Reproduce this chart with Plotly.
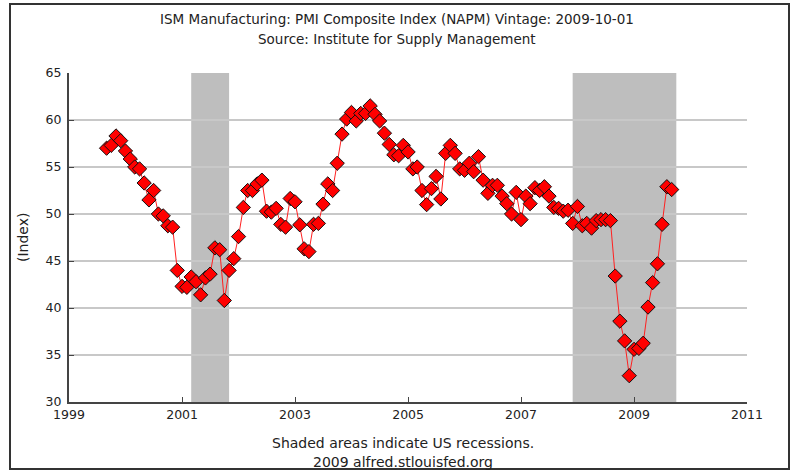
import pandas as pd
import plotly.graph_objects as go

# ---- data (monthly, Sep 1999 .. Sep 2009) ----
start_month = "1999-09-01"
pmi = [
    57.0, 57.3, 58.3, 57.8,
    56.7, 55.85, 55.0, 54.8, 53.3, 51.5, 52.5, 50.0, 49.8, 48.75, 48.6, 44.0,
    42.3, 42.2, 43.3, 42.8, 41.4, 43.2, 43.6, 46.4, 46.2, 40.8, 44.0, 45.25,
    47.6, 50.7, 52.5, 52.5, 53.2, 53.6, 50.3, 50.2, 50.6, 48.9, 48.6, 51.65,
    51.3, 48.85, 46.3, 46.0, 48.9, 49.0, 51.05, 53.2, 52.5, 55.4, 58.5, 60.1,
    60.8, 59.9, 60.7, 60.7, 61.5, 60.6, 59.9, 58.6, 57.4, 56.3, 56.2, 57.3,
    56.6, 54.8, 55.0, 52.5, 51.0, 52.7, 54.0, 51.6, 56.45, 57.3, 56.45, 54.8,
    54.65, 55.4, 54.5, 56.1, 53.6, 52.2, 53.05, 53.05, 51.9, 51.1, 50.0, 52.3,
    49.4, 51.9, 51.1, 52.8, 52.5, 52.9, 51.9, 50.7, 50.6, 50.3, 50.4, 49.0,
    50.8, 48.75, 49.0, 48.5, 49.3, 49.4, 49.4, 49.3, 43.4, 38.6, 36.5, 32.8,
    35.6, 35.7, 36.25, 40.1, 42.7, 44.7, 48.9, 52.9, 52.6,
]
dates = pd.date_range(start_month, periods=len(pmi), freq="MS")

recession_starts = ["2001-03-01", "2007-12-01"]
recession_ends = ["2001-11-01", "2009-10-01"]

title_line1 = "ISM Manufacturing: PMI Composite Index (NAPM) Vintage: 2009-10-01"
title_line2 = "Source: Institute for Supply Management"
footer_line1 = "Shaded areas indicate US recessions."
footer_line2 = "2009 alfred.stlouisfed.org"
y_title = "(Index)"

# ---- layout geometry (page pixels) ----
W, H = 794, 473
L, R, T, B = 69, 747, 73, 402
pw, ph = R - L, B - T


def px_x(p):
    return (p - L) / pw


def px_y(p):
    return (B - p) / ph


FONT = "DejaVu Sans"
TXT = "#222222"

fig = go.Figure()

fig.add_trace(go.Scatter(
    x=dates, y=pmi, mode="lines+markers",
    line=dict(color="#ff2020", width=1),
    marker=dict(symbol="diamond", size=11, color="#ff0000",
                line=dict(color="#111111", width=1)),
    hoverinfo="x+y", showlegend=False,
))

shapes = []
for s, e in zip(recession_starts, recession_ends):
    shapes.append(dict(type="rect", xref="x", yref="paper", x0=s, x1=e,
                       y0=0, y1=1, fillcolor="#bebebe", line=dict(width=0),
                       layer="below"))
# outer frame
shapes.append(dict(type="rect", xref="paper", yref="paper",
                   x0=px_x(10), x1=px_x(789), y0=px_y(469), y1=px_y(4),
                   line=dict(color="#333333", width=2), fillcolor="rgba(0,0,0,0)",
                   layer="above"))


def note(text, x, y, size, angle=0):
    return dict(text=text, x=px_x(x), y=px_y(y), xref="paper", yref="paper",
                xanchor="center", yanchor="middle", showarrow=False,
                textangle=angle, font=dict(family=FONT, size=size, color=TXT))


annotations = [
    note(title_line1, 397, 19, 13.5),
    note(title_line2, 397, 39, 13.5),
    note(footer_line1, 403, 443, 14),
    note(footer_line2, 403, 462, 14),
    note(y_title, 23, 238, 14, -90),
]

fig.update_layout(
    width=W, height=H,
    margin=dict(l=L, r=W - R, t=T, b=H - B, pad=0),
    paper_bgcolor="white", plot_bgcolor="white",
    shapes=shapes, annotations=annotations,
    font=dict(family=FONT, size=12, color=TXT),
    xaxis=dict(
        type="date", range=["1999-01-01", "2011-01-01"],
        tick0="1999-01-01", dtick="M24", tickformat="%Y",
        showgrid=False, zeroline=False,
        showline=True, linecolor="#444444", linewidth=2,
        ticks="inside", ticklen=5, tickcolor="#444444", tickwidth=1,
        tickfont=dict(family=FONT, size=12.5, color=TXT),
    ),
    yaxis=dict(
        range=[30, 65], dtick=5, tick0=30,
        showgrid=True, gridcolor="#c8c8c8", gridwidth=2,
        zeroline=False,
        showline=True, linecolor="#444444", linewidth=2,
        ticks="inside", ticklen=5, tickcolor="#444444", tickwidth=1,
        tickfont=dict(family=FONT, size=12.5, color=TXT),
        ticklabelstandoff=3,
    ),
)

# remove the default 8px page margin so the figure sits at the window origin
fig.write_html(
    "out.html",
    config={"displayModeBar": False},
    post_script="document.body.style.margin='0';document.body.style.padding='0';",
)
